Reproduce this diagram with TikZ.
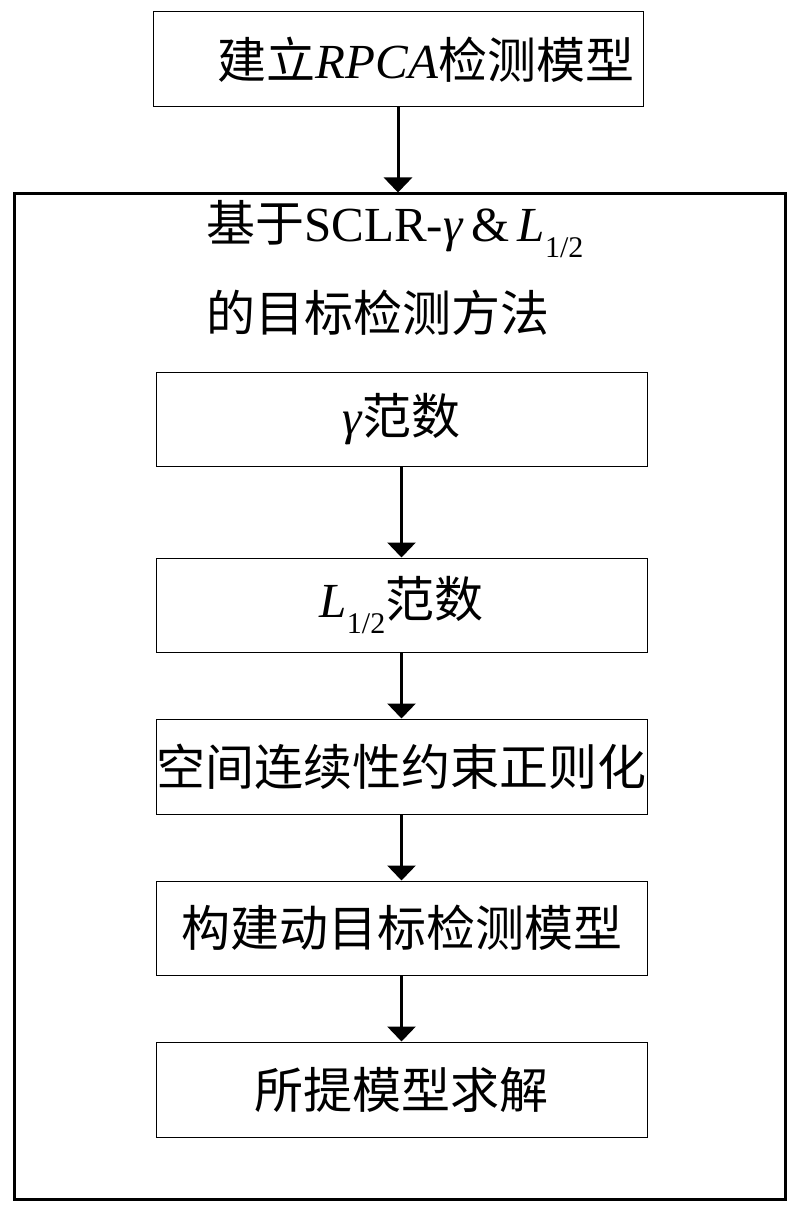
\documentclass[tikz,border=0pt]{standalone}
\usepackage{fontspec}
\setmainfont{Liberation Serif}
\newfontfamily\cjk{Noto Sans CJK SC}
\usetikzlibrary{arrows.meta}
\newcommand{\zh}[1]{{\cjk #1}}
\newcommand{\half}{\textit{L}\raisebox{-0.32em}{\fontsize{30}{30}\selectfont 1/2}}

\begin{document}
\begin{tikzpicture}[x=1pt, y=-1pt,
		normbox/.style={draw, line width=1pt, inner sep=0pt, minimum width=491pt, minimum height=94pt,
			font=\fontsize{49}{58}\selectfont},
		flowarrow/.style={line width=3pt, -{Triangle[length=15pt, width=28pt]}}]
		\useasboundingbox (0, 0) rectangle (797, 1214);

		\node[normbox, minimum width=490pt, minimum height=95pt] (rpca) at (398, 59.5)
			{\hspace*{56pt}\zh{建立}\textit{RPCA}\zh{检测模型}};

		\node[draw, line width=3pt, inner sep=0pt, minimum width=771pt, minimum height=1005pt] (outer) at (399.5, 696.5) {};

		\node[anchor=west, inner sep=0pt, font=\fontsize{49}{58}\selectfont] (title) at (206, 229)
			{\zh{基于}SCLR-\textit{γ}\,\&\,\half};
		\node[anchor=west, inner sep=0pt, font=\fontsize{49}{58}\selectfont] (subtitle) at (206, 313)
			{\zh{的目标检测方法}};

		\node[normbox] (gamma) at (401.5, 419.5) {\textit{γ}\zh{范数}};
		\node[normbox] (lhalf) at (401.5, 605) {\half\zh{范数}};
		\node[normbox, minimum height=95pt] (spatial) at (401.5, 766.5) {\zh{空间连续性约束正则化}};
		\node[normbox] (build) at (401.5, 928) {\zh{构建动目标检测模型}};
		\node[normbox, minimum height=95pt] (solve) at (401.5, 1089.5) {\zh{所提模型求解}};

		\draw[flowarrow] (rpca.south) -- (rpca.south |- outer.north);
		\draw[flowarrow] (gamma) -- (lhalf);
		\draw[flowarrow] (lhalf) -- (spatial);
		\draw[flowarrow] (spatial) -- (build);
		\draw[flowarrow] (build) -- (solve);
	\end{tikzpicture}
\end{document}
